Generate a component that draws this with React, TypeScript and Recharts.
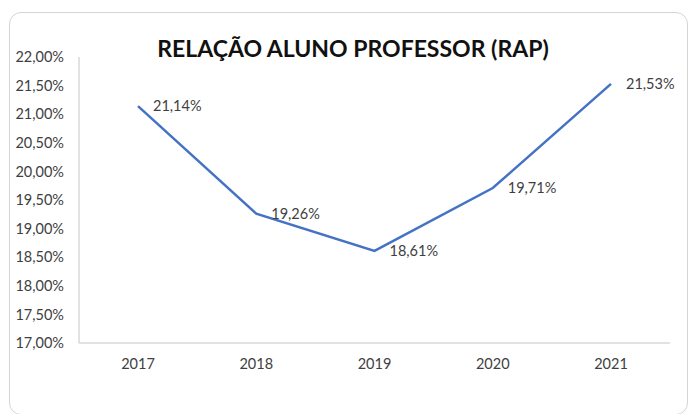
import { LineChart, Line, XAxis, YAxis, LabelList } from "recharts";

const years = ["2017", "2018", "2019", "2020", "2021"];
const rap = [21.14, 19.26, 18.61, 19.71, 21.53];
const yTicks = [17, 17.5, 18, 18.5, 19, 19.5, 20, 20.5, 21, 21.5, 22];

const data = years.map((year, i) => ({ year, rap: rap[i] }));

const pct = (v: number) => v.toFixed(2).replace(".", ",") + "%";

const font = "Lato, 'Open Sans', sans-serif";

export default function App() {
  return (
    <div
      style={{
        position: "fixed",
        left: 0,
        top: 0,
        width: 689,
        height: 414,
        background: "#fff",
        overflow: "hidden",
        fontFamily: font,
      }}
    >
      {/* chart frame */}
      <div
        style={{
          position: "absolute",
          left: 9,
          top: 12,
          width: 677,
          height: 401,
          border: "1px solid #d4d4d4",
          borderRadius: 12,
        }}
      />
      <div
        style={{
          position: "absolute",
          top: 34,
          left: 0,
          width: 706,
          textAlign: "center",
          fontSize: 23,
          fontWeight: 700,
          color: "#111",
        }}
      >
        RELAÇÃO ALUNO PROFESSOR (RAP)
      </div>
      <div style={{ position: "absolute", left: 0, top: 0 }}>
        <LineChart
          width={689}
          height={414}
          data={data}
          margin={{ top: 57, right: 19, bottom: 41, left: 8 }}
        >
          <XAxis
            dataKey="year"
            padding={{ left: 59, right: 59 }}
            tickLine={false}
            axisLine={{ stroke: "#d9d9d9", strokeWidth: 1.5 }}
            tickSize={0}
            tickMargin={16}
            height={30}
            tick={{ fill: "#404040", fontSize: 14.5, fontFamily: font }}
          />
          <YAxis
            domain={[17, 22]}
            ticks={yTicks}
            interval={0}
            tickFormatter={pct}
            tickLine={false}
            axisLine={{ stroke: "#d9d9d9", strokeWidth: 1.5 }}
            tickSize={0}
            tickMargin={15}
            width={71}
            tick={{ fill: "#404040", fontSize: 14.5, fontFamily: font }}
          />
          <Line
            type="linear"
            dataKey="rap"
            stroke="#4472C4"
            strokeWidth={2.5}
            dot={false}
            isAnimationActive={false}
          >
            <LabelList
              dataKey="rap"
              position="right"
              offset={15}
              formatter={(v: any) => pct(Number(v))}
              style={{ fill: "#404040", fontSize: 14.5, fontFamily: font }}
            />
          </Line>
        </LineChart>
      </div>
    </div>
  );
}
